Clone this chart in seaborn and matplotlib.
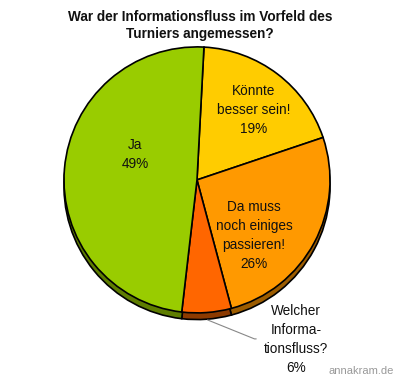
import matplotlib.pyplot as plt
import seaborn as sns

# -----------------------------
# Data
# -----------------------------
labels = ["Könnte\nbesser sein!", "Da muss\nnoch einiges\npassieren!",
          "Welcher\nInforma-\ntionsfluss?", "Ja"]
shares = [19, 26, 6, 49]
top_colors = ["#ffcc00", "#ff9900", "#ff6600", "#99cc00"]
side_colors = ["#a67c00", "#9c5c00", "#8c3a00", "#5e7d00"]

title = "War der Informationsfluss im Vorfeld des\nTurniers angemessen?"

sns.set_theme(style="white")
plt.rcParams['font.family'] = ['Liberation Sans', 'DejaVu Sans']

fig = plt.figure(figsize=(4.0, 3.84), dpi=100)
ax = fig.add_axes([0.16, 0.185, 0.665, 0.693])

# side of the "3D" disc: a darker copy shifted down
ax.pie(shares, colors=side_colors, startangle=87, counterclock=False,
       center=(0, -0.05), radius=1.0,
       wedgeprops=dict(edgecolor="black", linewidth=1.2))
ax.pie(shares, colors=top_colors, startangle=87, counterclock=False,
       center=(0, 0), radius=1.0,
       wedgeprops=dict(edgecolor="black", linewidth=1.2))

ax.set_xlim(-1, 1)
ax.set_ylim(-1, 1)
ax.set_aspect('equal')
ax.axis('off')

def px(x, y):
    # pixel position -> data coords of the pie axes
    return (x - 197) / 133.0, (180 - y) / 133.0

text_pos = [px(254, 110), px(254, 236), px(296, 340), px(135, 155)]
for lab, val, (tx, ty) in zip(labels, shares, text_pos):
    ax.text(tx, ty, f"{lab}\n{val}%", ha='center', va='center',
            fontsize=9.8, color='#111111', linespacing=1.45, clip_on=False)

# leader line for the small slice
ax.annotate("", xy=px(205, 319), xytext=px(259, 339),
            arrowprops=dict(arrowstyle='-', color='#888888', lw=0.8,
                            connectionstyle='angle,angleA=0,angleB=-22,rad=0'),
            annotation_clip=False)

fig.text(0.5, 0.975, title, ha='center', va='top', fontsize=9.8,
         fontweight='bold', color='#111111', linespacing=1.3)
fig.text(0.985, 0.02, "annakram.de", ha='right', va='bottom',
         fontsize=8, color='#999999')

fig.savefig("out.png", dpi=100)
